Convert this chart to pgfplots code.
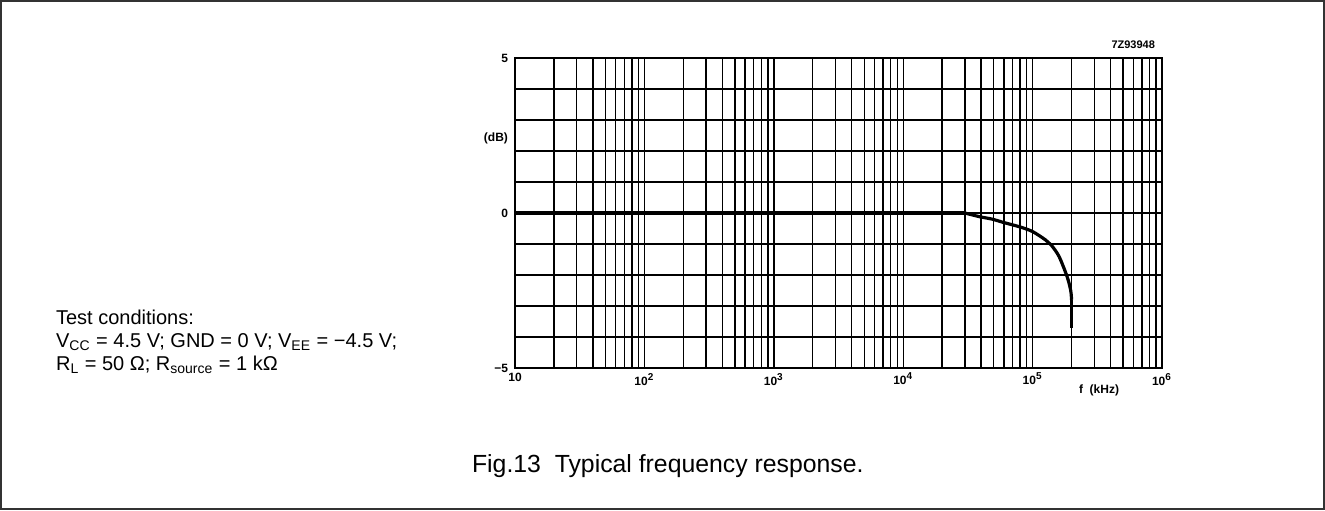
\documentclass[border=0pt]{standalone}
\usepackage{pgfplots}
\pgfplotsset{compat=1.18}
\usepackage{fontspec}
\setmainfont{Liberation Sans}
\begin{document}
\begin{tikzpicture}[x=1pt,y=1pt]
\useasboundingbox (0,0) rectangle (662.5,255);
\draw[line width=1.2pt, black!80] (0.6,0.6) rectangle (661.9,254.4);
\begin{axis}[
  at={(257.5pt,71pt)}, anchor=south west,
  width=323.5pt, height=155pt, scale only axis,
  xmode=log, log basis x=10,
  xmin=10, xmax=1e6, ymin=-5, ymax=5,
  xtick={10,100,1000,10000,100000,1000000},
  xticklabels={10,10\textsuperscript{2},10\textsuperscript{3},10\textsuperscript{4},10\textsuperscript{5},10\textsuperscript{6}},
  minor xtick={20,30,40,50,60,70,80,90,200,300,400,500,600,700,800,900,2000,3000,4000,5000,6000,7000,8000,9000,20000,30000,40000,50000,60000,70000,80000,90000,200000,300000,400000,500000,600000,700000,800000,900000},
  ytick={-5,0,5}, yticklabels={−5,0,5},
  minor ytick={-4,-3,-2,-1,1,2,3,4},
  grid=both,
  major grid style={black, line width=0.7pt},
  minor grid style={black, line width=0.7pt},
  axis line style={black, line width=1pt},
  tick style={draw=none},
  ticklabel style={font=\bfseries\fontsize{6}{7}\selectfont},
  xticklabel style={yshift=1pt},
  clip=false,
]
\addplot[black, line width=1.6pt] coordinates {(10,0) (30000,0)};
\addplot[black, line width=1.6pt, smooth, tension=0.5] coordinates {
  (30000,0) (39000,-0.12) (49000,-0.2) (59000,-0.3) (80000,-0.45)
  (100000,-0.6) (126000,-0.87) (139000,-1.03) (160000,-1.4) (185000,-2.06)
  (197000,-2.5) (200000,-2.8)
};
\addplot[black, line width=1.6pt] coordinates {(200000,-2.8) (200000,-3.7)};
\node[font=\bfseries\fontsize{6}{7}\selectfont, anchor=east] at (axis cs:10,2.4) {(dB)};
\node[font=\bfseries\fontsize{6}{7}\selectfont] at (axis cs:326000,-5) [yshift=-11pt] {f\ \ (kHz)};
\node[font=\bfseries\fontsize{5.5}{6}\selectfont, anchor=south east] at (rel axis cs:1,1) [yshift=1pt] {7Z93948};
\end{axis}
\node[anchor=base west, font=\fontsize{10}{11.5}\selectfont] at (24.5,93) {Test conditions:};
\node[anchor=base west, font=\fontsize{10}{11.5}\selectfont] at (24.5,81.5) {V\textsubscript{CC} = 4.5 V; GND = 0 V; V\textsubscript{EE} = −4.5 V;};
\node[anchor=base west, font=\fontsize{10}{11.5}\selectfont] at (24.5,70) {R\textsubscript{L} = 50 Ω; R\textsubscript{source} = 1 kΩ};
\node[anchor=base west, font=\fontsize{12.4}{14}\selectfont] at (232.5,19) {Fig.13\ \ Typical frequency response.};
\end{tikzpicture}
\end{document}
